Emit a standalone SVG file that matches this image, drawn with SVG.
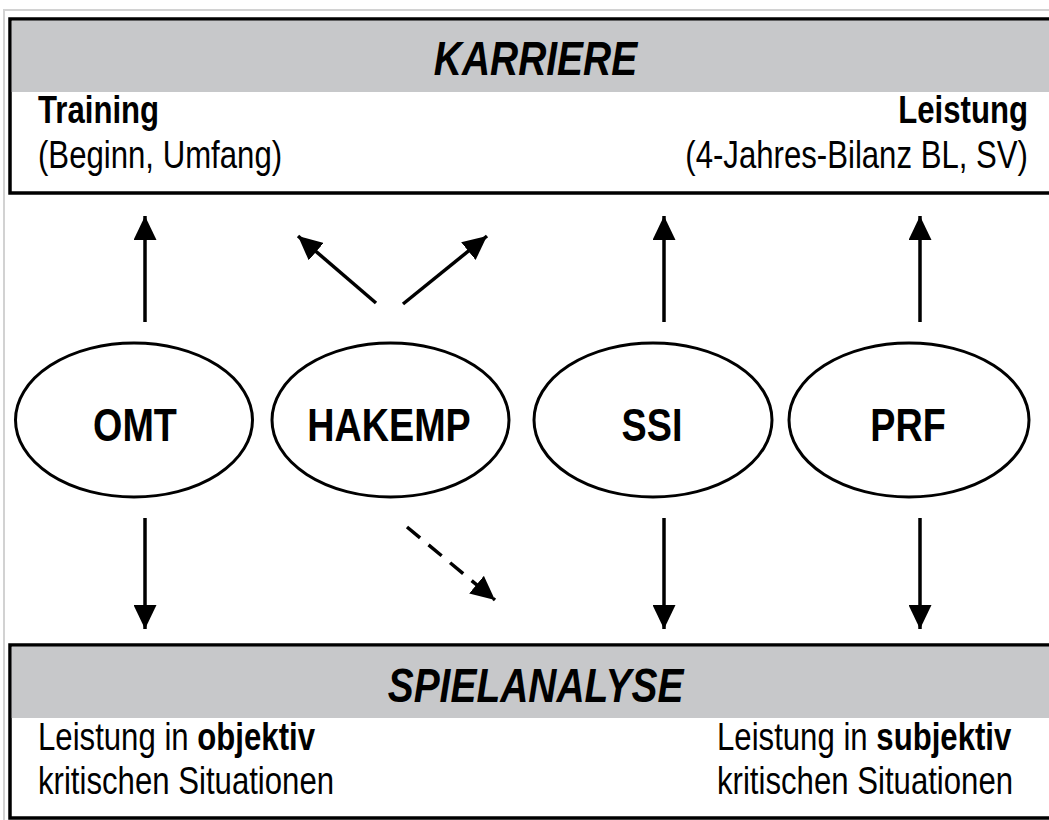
<svg xmlns="http://www.w3.org/2000/svg" width="1049" height="820" viewBox="0 0 1049 820">
<style>
  .frame{fill:none;stroke:#d2d2d2;stroke-width:2}
  .box{fill:#ffffff;stroke:#000;stroke-width:3.5}
  .band{fill:#c7c8ca}
  .title{font-family:"Liberation Sans",Arial,sans-serif;font-weight:bold;font-style:italic;font-size:47.5px;fill:#000;text-anchor:middle}
  .body{font-family:"Liberation Sans",Arial,sans-serif;font-size:38px;fill:#000}
  .b{font-weight:bold}
  .end{text-anchor:end}
  .node ellipse{fill:#fff;stroke:#000;stroke-width:3}
  .node text{font-family:"Liberation Sans",Arial,sans-serif;font-weight:bold;font-size:46px;fill:#000;text-anchor:middle}
  .conn line{stroke:#000;stroke-width:3.5;marker-end:url(#ah)}
  .conn line.dash{stroke-dasharray:17 11}
</style>
<defs>
  <marker id="ah" markerUnits="userSpaceOnUse" markerWidth="25" markerHeight="23" refX="24" refY="11.5" orient="auto">
    <path d="M0,0 L24,11.5 L0,23 z" fill="#000"/>
  </marker>
</defs>
<rect width="1049" height="820" fill="#fff"/>
<path class="frame" d="M4,820 V10 H1049"/>

<g id="karriere">
  <rect class="box" x="10" y="19" width="1060" height="174"/>
  <rect class="band" x="11.75" y="20.75" width="1040" height="71.25"/>
  <text class="title" transform="translate(535.5,75) scale(0.82,1)">KARRIERE</text>
  <text class="body b" transform="translate(38,123) scale(0.82,1)">Training</text>
  <text class="body" transform="translate(38,168) scale(0.82,1)">(Beginn, Umfang)</text>
  <text class="body b end" transform="translate(1028,123) scale(0.82,1)">Leistung</text>
  <text class="body end" transform="translate(1028,168) scale(0.82,1)">(4-Jahres-Bilanz BL, SV)</text>
</g>

<g id="spielanalyse">
  <rect class="box" x="10" y="645" width="1060" height="173"/>
  <rect class="band" x="11.75" y="646.75" width="1040" height="71.25"/>
  <text class="title" transform="translate(535.5,702) scale(0.82,1)">SPIELANALYSE</text>
  <text class="body" transform="translate(38,750) scale(0.82,1)">Leistung in <tspan class="b">objektiv</tspan></text>
  <text class="body" transform="translate(38,794) scale(0.82,1)">kritischen Situationen</text>
  <text class="body" transform="translate(717,750) scale(0.82,1)">Leistung in <tspan class="b">subjektiv</tspan></text>
  <text class="body" transform="translate(717,794) scale(0.82,1)">kritischen Situationen</text>
</g>

<g id="omt" class="node">
  <ellipse cx="134" cy="420" rx="118.5" ry="77"/>
  <text transform="translate(135,441) scale(0.82,1)">OMT</text>
</g>
<g id="hakemp" class="node">
  <ellipse cx="390.5" cy="420" rx="118.5" ry="77"/>
  <text transform="translate(389,441) scale(0.82,1)">HAKEMP</text>
</g>
<g id="ssi" class="node">
  <ellipse cx="653" cy="420" rx="119" ry="77"/>
  <text transform="translate(652,441) scale(0.82,1)">SSI</text>
</g>
<g id="prf" class="node">
  <ellipse cx="909" cy="420" rx="120" ry="77"/>
  <text transform="translate(908,441) scale(0.82,1)">PRF</text>
</g>

<g id="connectors" class="conn">
  <line x1="145" y1="322" x2="145" y2="216"/>
  <line x1="376" y1="303" x2="298" y2="236"/>
  <line x1="403" y1="304" x2="487" y2="236"/>
  <line x1="664" y1="322" x2="664" y2="216"/>
  <line x1="920" y1="322" x2="920" y2="216"/>
  <line x1="145" y1="518" x2="145" y2="629"/>
  <line class="dash" x1="407" y1="527" x2="495" y2="600"/>
  <line x1="664" y1="518" x2="664" y2="629"/>
  <line x1="920" y1="518" x2="920" y2="629"/>
</g>
</svg>
